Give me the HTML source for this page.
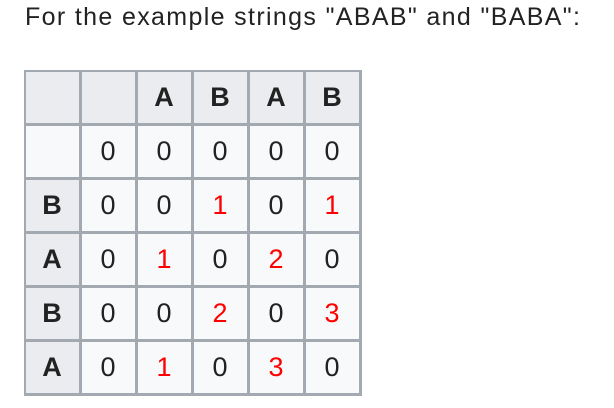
<!DOCTYPE html>
<html><head><meta charset="utf-8"><style>
body{margin:0;width:614px;height:408px;background:#fff;position:relative;overflow:hidden;font-family:"Liberation Sans",Arial,sans-serif;}
.t{position:absolute;left:25px;top:3px;font-size:25px;letter-spacing:1.35px;color:#222;white-space:nowrap;}
.c{position:absolute;width:56px;height:54px;box-sizing:border-box;border:1px solid #a2a9b1;margin:-1px;background:#f8f9fa;display:flex;align-items:center;justify-content:center;font-size:27px;color:#222;}
.h{background:#eaecf0;font-weight:bold;}
.r{color:#f00;}
.g{position:absolute;background:#a2a9b1;}
</style></head><body>
<div class="t">For the example strings "ABAB" and "BABA":</div>
<div id="grid"></div>
<script>
var data=[["","","A","B","A","B"],["","0","0","0","0","0"],["B","0","0","1","0","1"],["A","0","1","0","2","0"],["B","0","0","2","0","3"],["A","0","1","0","3","0"]];
var h="";
for(var r=0;r<6;r++)for(var c=0;c<6;c++){
var v=data[r][c],cls="c";
if(r==0||(c==0&&r>1))cls+=" h";
if(r>1&&c>0&&v!="0")cls+=" r";
h+='<div class="'+cls+'" style="left:'+(25+c*56)+'px;top:'+(71+r*54)+'px">'+v+'</div>';}
for(var i=0;i<7;i++){h+='<div class="g" style="left:'+(24+i*56)+'px;top:70px;width:2px;height:326px"></div>';
h+='<div class="g" style="left:24px;top:'+(70+i*54)+'px;width:338px;height:2px"></div>';}
document.getElementById("grid").innerHTML=h;
</script>
</body></html>
